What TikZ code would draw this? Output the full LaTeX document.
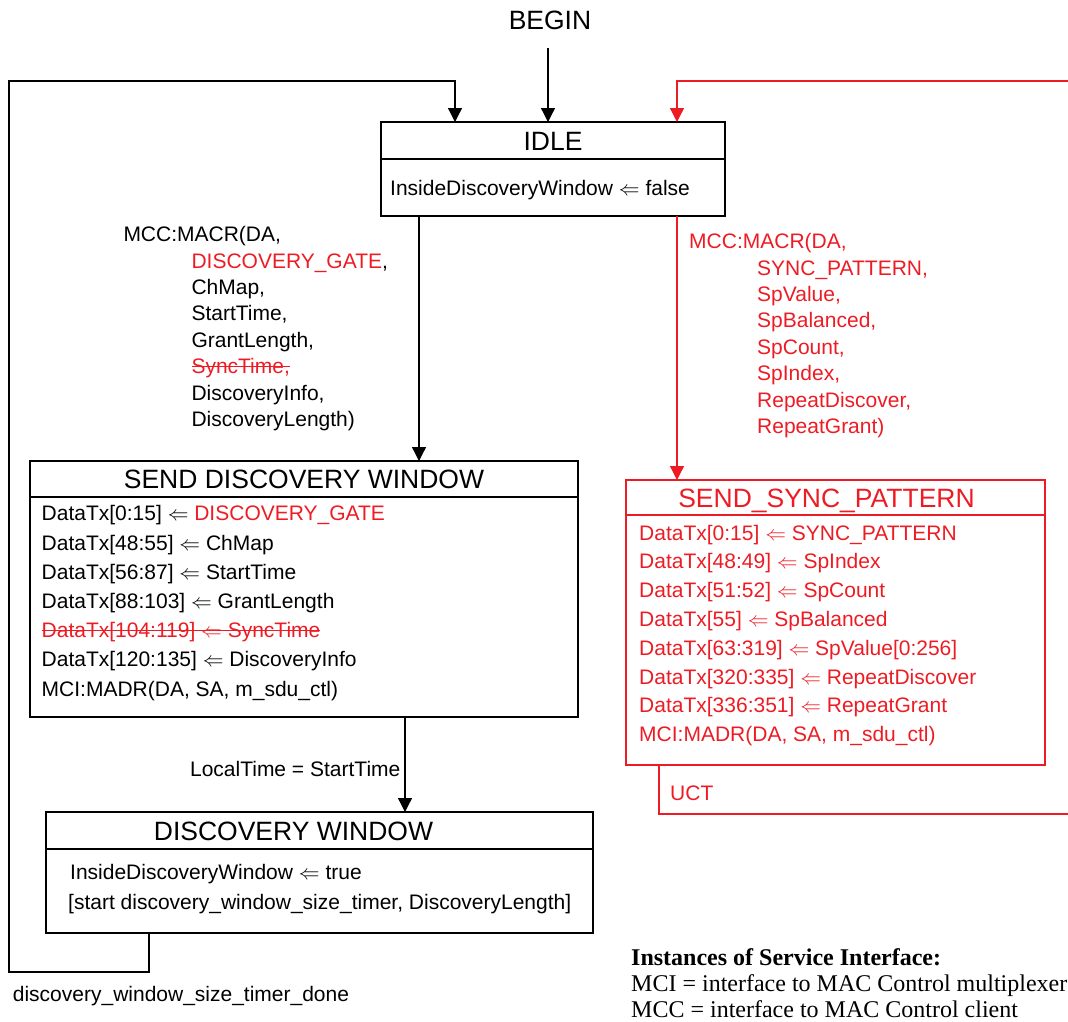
\documentclass[tikz,border=0pt]{standalone}
\usepackage{fontspec}
\setmainfont{Liberation Sans}
\newfontfamily\legendfont{Liberation Serif}
\usetikzlibrary{arrows.meta,positioning}
\definecolor{editred}{RGB}{237,28,36}
\newcommand{\struck}[1]{\leavevmode\setbox0\hbox{#1}\rlap{\rule[0.3em]{\wd0}{1.1pt}}\box0}

\begin{document}
\begin{tikzpicture}
[x=1pt,y=-1pt,
head/.style={rectangle,draw,line width=2.7pt,inner sep=0pt,outer sep=0pt,
minimum height=37pt,text height=19pt,text depth=0pt,
font=\fontsize{26.5}{30}\selectfont},
body/.style={rectangle,draw,line width=2.7pt,inner sep=0pt,outer sep=0pt},
lines/.style={anchor=base west,align=left,inner sep=0pt,
font=\fontsize{21}{29.2}\selectfont},
cond/.style={anchor=base west,align=left,inner sep=0pt,
font=\fontsize{21}{26.4}\selectfont},
flow/.style={-{Triangle[width=14pt,length=14pt]},line width=1.3pt},
red state/.style={draw=editred,text=editred},
legend/.style={anchor=base west,align=left,inner sep=0pt,
font=\legendfont\fontsize{24}{25.8}\selectfont}]

\useasboundingbox (0,0) rectangle (1068,1021);

% states (multi-line texts sit on the baseline of their last line)
\node [head,minimum width=344pt] (idle) at (553,140.5) {IDLE};
\node [body,minimum width=344pt,minimum height=57pt] (idlebody) [below=0pt of idle] {};
\node [lines] (idletxt) at (390,195) {InsideDiscoveryWindow $\Leftarrow$ false};

\node [head,minimum width=548pt,minimum height=36pt] (sdw) at (304,479) {SEND DISCOVERY WINDOW};
\node [body,minimum width=548pt,minimum height=220pt] (sdwbody) [below=0pt of sdw] {};
\node [lines] (sdwtxt) at (41.5,696)
{DataTx[0:15] $\Leftarrow$ \textcolor{editred}{DISCOVERY\_GATE}\\
DataTx[48:55] $\Leftarrow$ ChMap\\
DataTx[56:87] $\Leftarrow$ StartTime\\
DataTx[88:103] $\Leftarrow$ GrantLength\\
\textcolor{editred}{\struck{DataTx[104:119] $\Leftarrow$ SyncTime}}\\
DataTx[120:135] $\Leftarrow$ DiscoveryInfo\\
MCI:MADR(DA, SA, m\_sdu\_ctl)};

\node [head,minimum width=547pt] (dw) at (319.5,830.5) {DISCOVERY WINDOW\hspace*{52pt}};
\node [body,minimum width=547pt,minimum height=84pt] (dwbody) [below=0pt of dw] {};
\node [lines,font=\fontsize{21}{30.5}\selectfont] (dwtxt) at (70,909.5)
{InsideDiscoveryWindow $\Leftarrow$ true\\
\hspace*{-2pt}{[}start discovery\_window\_size\_timer, DiscoveryLength]};

\node [head,red state,minimum width=419pt,minimum height=35pt] (ssp) at (835.5,497.5)
{SEND\_SYNC\_PATTERN\hspace*{18pt}};
\node [body,red state,minimum width=419pt,minimum height=250pt] (sspbody) [below=0pt of ssp] {};
\node [lines,text=editred,font=\fontsize{21}{28.8}\selectfont] (ssptxt) at (639,741.6)
{DataTx[0:15] $\Leftarrow$ SYNC\_PATTERN\\
DataTx[48:49] $\Leftarrow$ SpIndex\\
DataTx[51:52] $\Leftarrow$ SpCount\\
DataTx[55] $\Leftarrow$ SpBalanced\\
DataTx[63:319] $\Leftarrow$ SpValue[0:256]\\
DataTx[320:335] $\Leftarrow$ RepeatDiscover\\
DataTx[336:351] $\Leftarrow$ RepeatGrant\\
MCI:MADR(DA, SA, m\_sdu\_ctl)};

% transitions
\node [inner sep=0pt,font=\fontsize{26.5}{30}\selectfont] (begin) at (550,20) {BEGIN};
\coordinate (beginx) at (548,48);
\draw [flow] (beginx) -- (beginx |- idle.north);

\coordinate (mccx) at (419,0);
\draw [flow] (idlebody.south -| mccx) -- (mccx |- sdw.north);
\node [cond] (mcc) at (123.3,426.5)
{MCC:MACR(DA,\\
\hspace*{68pt}\textcolor{editred}{DISCOVERY\_GATE},\\
\hspace*{68pt}ChMap,\\
\hspace*{68pt}StartTime,\\
\hspace*{68pt}GrantLength,\\
\hspace*{68pt}\textcolor{editred}{\struck{SyncTime,}}\\
\hspace*{68pt}DiscoveryInfo,\\
\hspace*{68pt}DiscoveryLength)};

\coordinate (idlered) at (677,81);
\draw [flow,editred] (idlebody.south -| idlered) -- (idlered |- ssp.north);
\node [cond,text=editred] (macr) at (689,433.5)
{MCC:MACR(DA,\\
\hspace*{68pt}SYNC\_PATTERN,\\
\hspace*{68pt}SpValue,\\
\hspace*{68pt}SpBalanced,\\
\hspace*{68pt}SpCount,\\
\hspace*{68pt}SpIndex,\\
\hspace*{68pt}RepeatDiscover,\\
\hspace*{68pt}RepeatGrant)};

\coordinate (localx) at (405,0);
\draw [flow] (sdwbody.south -| localx) -- node [pos=0.55,left=4pt,inner sep=0pt,
font=\fontsize{21}{26}\selectfont] (localtime) {LocalTime = StartTime} (localx |- dw.north);

% loop back from DISCOVERY WINDOW
\coordinate (dwexit) at (149,972);
\coordinate (leftbot) at (9,972);
\coordinate (lefttop) at (9,81);
\coordinate (idlein) at (455,81);
\draw [flow] (dwbody.south -| dwexit) -- (dwexit) -- (leftbot) -- (lefttop)
-- (idlein) -- (idlein |- idle.north);
\node [cond] (timerdone) at (12.7,1001.7) {discovery\_window\_size\_timer\_done};

% loop back from SEND_SYNC_PATTERN
\coordinate (sspexit) at (659,814);
\coordinate (rightbot) at (1080,814);
\coordinate (righttop) at (1080,81);
\draw [line width=1.3pt,editred] (sspbody.south -| sspexit) -- (sspexit) -- (rightbot);
\draw [flow,editred] (righttop) -- (idlered) -- (idlered |- idle.north);
\node [cond,text=editred] (uct) at (670,800) {UCT};

% legend
\node [legend] (interfaces) at (631,1017.3)
{\textbf{Instances of Service Interface:}\\
MCI = interface to MAC Control multiplexer\\
MCC = interface to MAC Control client};
\end{tikzpicture}
\end{document}
